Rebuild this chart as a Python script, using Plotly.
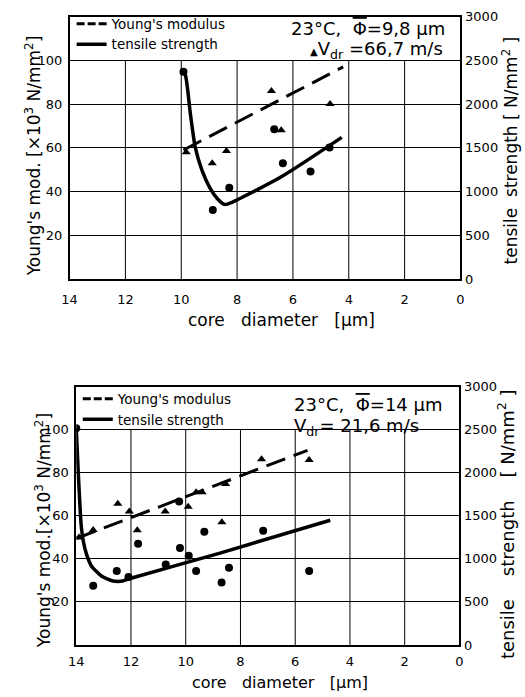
import plotly.graph_objects as go

# ---------------- data (top panel: 23°C, Φ=9,8 µm, Vdr=66,7 m/s) ----------------
top_tri_x = [9.82, 8.89, 8.38, 6.77, 6.42, 4.67]
top_tri_y = [58, 53, 58.5, 86, 68, 80]              # Young's modulus [x10^3 N/mm2]
top_dot_x = [9.92, 8.87, 8.28, 6.67, 6.36, 5.37, 4.69]
top_dot_y = [2370, 790, 1045, 1713, 1325, 1231, 1503]  # tensile strength [N/mm2]
top_fit_young_x = [9.92, 4.2]
top_fit_young_y = [59, 97]
top_fit_ts_x = [9.97, 9.85, 9.67, 9.50, 9.26, 8.97, 8.68, 8.45, 8.16, 6.40, 4.25]
top_fit_ts_y = [2384, 2328, 1880, 1507, 1245, 1040, 910, 854, 881, 1172, 1619]

# ---------------- data (bottom panel: 23°C, Φ=14 µm, Vdr=21,6 m/s) ----------------
bot_tri_x = [13.9, 13.38, 12.48, 12.06, 11.77, 10.75, 9.91, 9.62, 9.4, 8.68, 8.54, 7.23, 5.49]
bot_tri_y = [50, 53.4, 65.6, 62.1, 53.3, 62.1, 64.3, 71, 71, 57, 74.8, 86.3, 86]
bot_dot_x = [14.0, 13.38, 12.52, 12.09, 11.74, 10.73, 10.24, 10.21, 9.89, 9.62, 9.32, 8.69, 8.42, 7.17, 5.49]
bot_dot_y = [2519, 687, 859, 790, 1176, 935, 1668, 1126, 1038, 859, 1317, 725, 897, 1328, 859]
bot_fit_young_x = [13.98, 5.55]
bot_fit_young_y = [49.6, 90.5]
bot_fit_ts_x = [14.0, 13.92, 13.82, 13.74, 13.62, 13.44, 13.08, 12.66, 12.3, 12.0, 8.78, 4.72]
bot_fit_ts_y = [2519, 1966, 1393, 1202, 1050, 916, 802, 744, 744, 775, 1065, 1450]

x_ticks = [14, 12, 10, 8, 6, 4, 2, 0]
x_grid = [12, 10, 8, 6, 4, 2]
y_left_ticks = [20, 40, 60, 80, 100]
y_right_ticks = [0, 500, 1000, 1500, 2000, 2500, 3000]

FONT = "DejaVu Sans"
BLACK = "black"

fig = go.Figure()

def add_panel(xa, ya, ya2, leg, tri_x, tri_y, dot_x, dot_y, fy_x, fy_y, ft_x, ft_y):
    # legend entries (short-dash sample as in the original key)
    fig.add_trace(go.Scatter(x=[None], y=[None], xaxis=xa, yaxis=ya, mode="lines",
                             name="Young's modulus", legend=leg,
                             line=dict(color=BLACK, width=3, dash="8px,3px")))
    fig.add_trace(go.Scatter(x=[None], y=[None], xaxis=xa, yaxis=ya2, mode="lines",
                             name="tensile strength", legend=leg,
                             line=dict(color=BLACK, width=3.5)))
    # fitted curves
    fig.add_trace(go.Scatter(x=fy_x, y=fy_y, xaxis=xa, yaxis=ya, mode="lines",
                             name="Young's modulus", showlegend=False,
                             line=dict(color=BLACK, width=3, dash="20px,9px")))
    fig.add_trace(go.Scatter(x=ft_x, y=ft_y, xaxis=xa, yaxis=ya2, mode="lines",
                             name="tensile strength", showlegend=False,
                             line=dict(color=BLACK, width=3.5, shape="spline", smoothing=0.6)))
    # measured points
    fig.add_trace(go.Scatter(x=tri_x, y=tri_y, xaxis=xa, yaxis=ya, mode="markers",
                             name="Young's modulus (measured)", showlegend=False,
                             marker=dict(symbol="triangle-up", size=8, color=BLACK)))
    fig.add_trace(go.Scatter(x=dot_x, y=dot_y, xaxis=xa, yaxis=ya2, mode="markers",
                             name="tensile strength (measured)", showlegend=False,
                             marker=dict(symbol="circle", size=8, color=BLACK)))

add_panel("x", "y", "y2", "legend", top_tri_x, top_tri_y, top_dot_x, top_dot_y,
          top_fit_young_x, top_fit_young_y, top_fit_ts_x, top_fit_ts_y)
add_panel("x2", "y3", "y4", "legend2", bot_tri_x, bot_tri_y, bot_dot_x, bot_dot_y,
          bot_fit_young_x, bot_fit_young_y, bot_fit_ts_x, bot_fit_ts_y)

tickfont = dict(family=FONT, size=13, color=BLACK)

def xaxis_cfg(domain, anchor, tl):
    return dict(domain=domain, anchor=anchor, range=[14, 0], tickvals=x_ticks,
                showgrid=False, zeroline=False, showline=True, linecolor=BLACK, linewidth=1.5,
                mirror=True, ticks="outside", ticklen=tl, tickcolor="rgba(0,0,0,0)",
                tickfont=tickfont)

def yleft_cfg(domain, anchor):
    return dict(domain=domain, anchor=anchor, range=[0, 120], tickvals=y_left_ticks,
                showgrid=True, gridcolor=BLACK, gridwidth=1, zeroline=False,
                showline=True, linecolor=BLACK, linewidth=1.5, mirror=True,
                ticks="outside", ticklen=3, tickcolor="rgba(0,0,0,0)", tickfont=tickfont)

def yright_cfg(overlay, anchor):
    return dict(overlaying=overlay, anchor=anchor, side="right", range=[0, 3000],
                tickvals=y_right_ticks, showgrid=False, zeroline=False, showline=False,
                ticks="outside", ticklen=1, tickcolor="rgba(0,0,0,0)", tickfont=tickfont)

top_xd = [0.12, 0.882]
top_yd = [0.601, 0.986]
bot_xd = [0.133, 0.88]
bot_yd = [0.0646, 0.443]

shapes = []
for xref, yref in (("x", "y"), ("x2", "y3")):
    for gx in x_grid:
        shapes.append(dict(type="line", xref=xref, yref=yref, x0=gx, x1=gx, y0=0, y1=100,
                           line=dict(color=BLACK, width=1), layer="below"))

ann = []
def A(text, x, y, size, xanchor="center", angle=0):
    ann.append(dict(text=text, x=x, y=y, xref="paper", yref="paper", showarrow=False,
                    xanchor=xanchor, yanchor="middle", textangle=angle,
                    font=dict(family=FONT, size=size, color=BLACK)))

NB = "\u00a0"
PHI = "<span style='text-decoration:overline'>\u03a6</span>"
# top panel texts
A(f"23°C,{NB}{NB}{PHI}=9,8{NB}µm", 0.547, 0.968, 18, "left")
A(f"<span style='font-size:10px'>▲</span>V<sub>dr</sub>{NB}=66,7{NB}m/s", 0.585, 0.937, 18, "left")
A(f"core{NB}{NB}{NB}diameter{NB}{NB}{NB}[µm]", 0.533, 0.541, 17)
A("Young's mod. [×10<sup>3</sup> N/mm<sup>2</sup>]", 0.048, 0.782, 17, angle=-90)
A(f"tensile{NB}{NB}strength{NB}[{NB}N/mm<sup>2</sup>{NB}]", 0.979, 0.79, 17, angle=-90)
# bottom panel texts
A(f"23°C,{NB}{NB}{PHI}=14{NB}µm", 0.553, 0.417, 18, "left")
A(f"V<sub>dr</sub>={NB}21,6{NB}m/s", 0.553, 0.384, 18, "left")
A(f"core{NB}{NB}{NB}diameter{NB}{NB}{NB}[µm]", 0.53, 0.010, 16)
A("Young's mod.[×10<sup>3</sup> N/mm<sup>2</sup>]", 0.067, 0.232, 17, angle=-90)
A(f"tensile{NB}{NB}{NB}{NB}strength{NB}{NB}{NB}{NB}[{NB}N/mm<sup>2</sup>{NB}]",
  0.971, 0.242, 18, angle=-90)

legfont = dict(family=FONT, size=13.5, color=BLACK)
fig.update_layout(
    width=525, height=697,
    margin=dict(l=0, r=0, t=0, b=0),
    paper_bgcolor="white", plot_bgcolor="white",
    xaxis=xaxis_cfg(top_xd, "y", 8),
    yaxis=yleft_cfg(top_yd, "x"),
    yaxis2=yright_cfg("y", "x"),
    xaxis2=xaxis_cfg(bot_xd, "y3", 4),
    yaxis3=yleft_cfg(bot_yd, "x2"),
    yaxis4=yright_cfg("y3", "x2"),
    legend=dict(x=0.124, y=0.998, xanchor="left", yanchor="top", bgcolor="rgba(0,0,0,0)",
                font=legfont, tracegroupgap=0),
    legend2=dict(x=0.136, y=0.448, xanchor="left", yanchor="top", bgcolor="rgba(0,0,0,0)",
                 font=legfont, tracegroupgap=0),
    shapes=shapes, annotations=ann,
)

fig.write_html("out.html", config={"displayModeBar": False},
               post_script="document.body.style.margin='0px';document.body.style.overflow='hidden';")
